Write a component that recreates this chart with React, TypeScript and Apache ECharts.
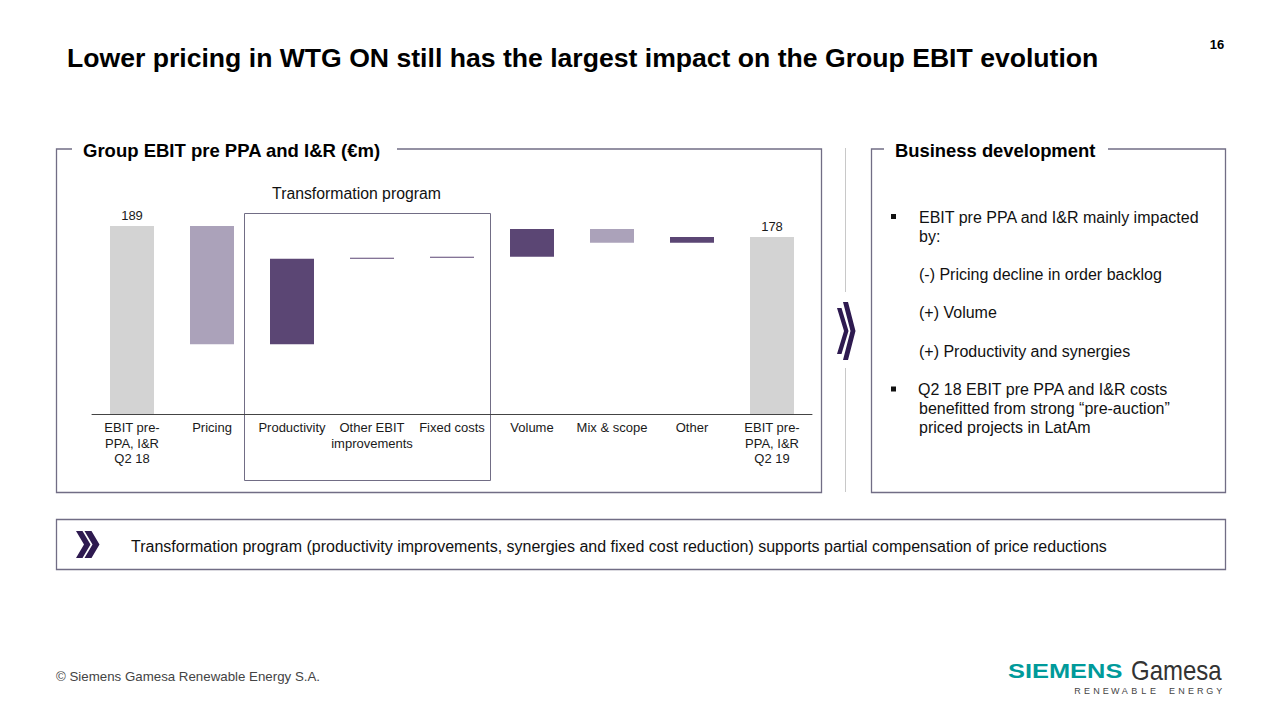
import React, { useEffect, useRef } from "react";
import * as echarts from "echarts";

const FONT = "'Liberation Sans', Arial, Helvetica, sans-serif";

const categories = [
  "EBIT pre-\nPPA, I&R\nQ2 18",
  "Pricing",
  "Productivity",
  "Other EBIT\nimprovements",
  "Fixed costs",
  "Volume",
  "Mix & scope",
  "Other",
  "EBIT pre-\nPPA, I&R\nQ2 19",
];
const startValue = 189;
const changes = [-119, 86, 1, 1, 28, -14, 6];
const endValue = 178;

const titleText = "Lower pricing in WTG ON still has the largest impact on the Group EBIT evolution";
const pageNumber = "16";
const leftPanelTitle = "Group EBIT pre PPA and I&R (€m)";
const rightPanelTitle = "Business development";
const boxTitle = "Transformation program";
const bulletLines = [
  { text: "EBIT pre PPA and I&R mainly impacted", bullet: true },
  { text: "by:", bullet: false },
  { text: "(-) Pricing decline in order backlog", bullet: false },
  { text: "(+) Volume", bullet: false },
  { text: "(+) Productivity and synergies", bullet: false },
  { text: "Q2 18 EBIT pre PPA and I&R costs", bullet: true },
  { text: "benefitted from strong \u201cpre-auction\u201d", bullet: false },
  { text: "priced projects in LatAm", bullet: false },
];
const bulletY = [217, 236, 274, 312.5, 351, 389.5, 408.5, 427.5];
const bottomText =
  "Transformation program (productivity improvements, synergies and fixed cost reduction) supports partial compensation of price reductions";
const footerText = "\u00a9 Siemens Gamesa Renewable Energy S.A.";
const logoSub = "RENEWABLE ENERGY";

const COLOR_TOTAL = "#d3d3d3";
const COLOR_UP = "#5b4674";
const COLOR_DOWN = "#aba2ba";
const FRAME = "#716d85";
const CHEV = "#2e1a50";

function chevron(x0: number, top: number, bottom: number, t: number, d: number) {
  const mid = (top + bottom) / 2;
  return [
    [x0, top],
    [x0 + t, top],
    [x0 + t + d, mid],
    [x0 + t, bottom],
    [x0, bottom],
    [x0 + d, mid],
  ];
}

export default function App() {
  const ref = useRef<HTMLDivElement>(null);
  useEffect(() => {
    if (!ref.current) return;
    const chart = echarts.init(ref.current, undefined, { renderer: "svg" });

    const bases: number[] = [0];
    const heights: any[] = [];
    let run = startValue;
    heights.push({ value: startValue, itemStyle: { color: COLOR_TOTAL }, label: { show: true, formatter: String(startValue) } });
    changes.forEach((c) => {
      if (c >= 0) {
        bases.push(run);
        run += c;
        heights.push({ value: c, itemStyle: { color: COLOR_UP } });
      } else {
        run += c;
        bases.push(run);
        heights.push({ value: -c, itemStyle: { color: COLOR_DOWN } });
      }
    });
    bases.push(0);
    heights.push({ value: endValue, itemStyle: { color: COLOR_TOTAL }, label: { show: true, formatter: String(endValue) } });

    const graphics: any[] = [];
    const txt = (x: number, y: number, text: string, font: string, fill = "#000", align = "left", extra: any = {}) =>
      graphics.push({
        type: "text",
        x,
        y,
        silent: true,
        ...extra,
        style: { text, font, fill, textAlign: align, textVerticalAlign: "middle" },
      });

    txt(67, 58, titleText, `bold 26.6px ${FONT}`, "#000");
    txt(1217, 44, pageNumber, `bold 13px ${FONT}`, "#000", "center");

    // left panel frame
    graphics.push({
      type: "polyline",
      silent: true,
      shape: { points: [[72, 149], [56.5, 149], [56.5, 492.5], [821.5, 492.5], [821.5, 149], [397, 149]] },
      style: { stroke: FRAME, lineWidth: 1.3, fill: null },
    });
    txt(83, 150, leftPanelTitle, `bold 18.5px ${FONT}`, "#000");

    // right panel frame
    graphics.push({
      type: "polyline",
      silent: true,
      shape: { points: [[884, 149], [871.5, 149], [871.5, 492.5], [1225.5, 492.5], [1225.5, 149], [1108, 149]] },
      style: { stroke: FRAME, lineWidth: 1.3, fill: null },
    });
    txt(895, 150, rightPanelTitle, `bold 18.4px ${FONT}`, "#000");

    // transformation box
    graphics.push({
      type: "rect",
      silent: true,
      shape: { x: 244.5, y: 213.5, width: 246, height: 267 },
      style: { stroke: FRAME, lineWidth: 1, fill: null },
    });
    txt(356.5, 193, boxTitle, `15.8px ${FONT}`, "#111", "center");

    // separator + chevron
    graphics.push({ type: "line", silent: true, shape: { x1: 845.5, y1: 148, x2: 845.5, y2: 292 }, style: { stroke: "#c8c8c8", lineWidth: 1 } });
    graphics.push({ type: "line", silent: true, shape: { x1: 845.5, y1: 368, x2: 845.5, y2: 492 }, style: { stroke: "#c8c8c8", lineWidth: 1 } });
    graphics.push({ type: "polygon", silent: true, shape: { points: chevron(837, 308, 354, 4.5, 7) }, style: { fill: CHEV } });
    graphics.push({ type: "polygon", silent: true, shape: { points: chevron(843, 302, 360, 5, 7.5) }, style: { fill: CHEV } });

    // bullets
    bulletLines.forEach((b, i) => {
      if (b.bullet) {
        graphics.push({ type: "rect", silent: true, shape: { x: 891, y: bulletY[i] - 3, width: 5, height: 5 }, style: { fill: "#111" } });
      }
      txt(b.bullet && i > 0 ? 918 : 919, bulletY[i], b.text, `16px ${FONT}`, "#111");
    });

    // bottom box
    graphics.push({
      type: "rect",
      silent: true,
      shape: { x: 56.5, y: 519.5, width: 1169, height: 50 },
      style: { stroke: FRAME, lineWidth: 1.3, fill: null },
    });
    graphics.push({ type: "polygon", silent: true, shape: { points: chevron(76, 531, 558, 6.5, 8) }, style: { fill: CHEV } });
    graphics.push({ type: "polygon", silent: true, shape: { points: chevron(84.5, 531, 558, 7, 8) }, style: { fill: CHEV } });
    txt(131, 546, bottomText, `16px ${FONT}`, "#111");

    // footer
    txt(56, 676, footerText, `13.3px ${FONT}`, "#444");

    // logo
    graphics.push({
      type: "text",
      x: 1008,
      y: 671.5,
      scaleX: 1.27,
      silent: true,
      style: { text: "SIEMENS", font: `bold 20px ${FONT}`, fill: "#009a9a", textAlign: "left", textVerticalAlign: "middle" },
    });
    graphics.push({
      type: "text",
      x: 1131,
      y: 670.5,
      scaleY: 1.12,
      silent: true,
      style: { text: "Gamesa", font: `24px ${FONT}`, fill: "#333333", textAlign: "left", textVerticalAlign: "middle" },
    });
    const subChars = logoSub.split("");
    subChars.forEach((ch, i) => {
      if (ch === " ") return;
      txt(1077.5 + i * 9.45, 691, ch, `9px ${FONT}`, "#444", "center");
    });

    chart.setOption({
      animation: false,
      backgroundColor: "#ffffff",
      grid: { left: 92, width: 720, top: 215, height: 199, containLabel: false },
      xAxis: {
        type: "category",
        data: categories,
        axisTick: { show: false },
        axisLine: { lineStyle: { color: "#444", width: 1 } },
        axisLabel: { interval: 0, fontSize: 13, lineHeight: 15.5, color: "#1a1a1a", fontFamily: FONT, margin: 6 },
      },
      yAxis: { type: "value", min: 0, max: 200, show: false, splitLine: { show: false } },
      series: [
        {
          type: "bar",
          stack: "w",
          data: bases,
          barWidth: 44,
          itemStyle: { color: "transparent" },
          silent: true,
        },
        {
          type: "bar",
          stack: "w",
          data: heights,
          barWidth: 44,
          label: { show: false, position: "top", distance: 4, fontSize: 13, color: "#1a1a1a", fontFamily: FONT },
        },
      ],
      graphic: graphics,
    });
    return () => chart.dispose();
  }, []);
  return <div ref={ref} style={{ position: "fixed", left: 0, top: 0, width: 1280, height: 720, background: "#fff" }} />;
}
